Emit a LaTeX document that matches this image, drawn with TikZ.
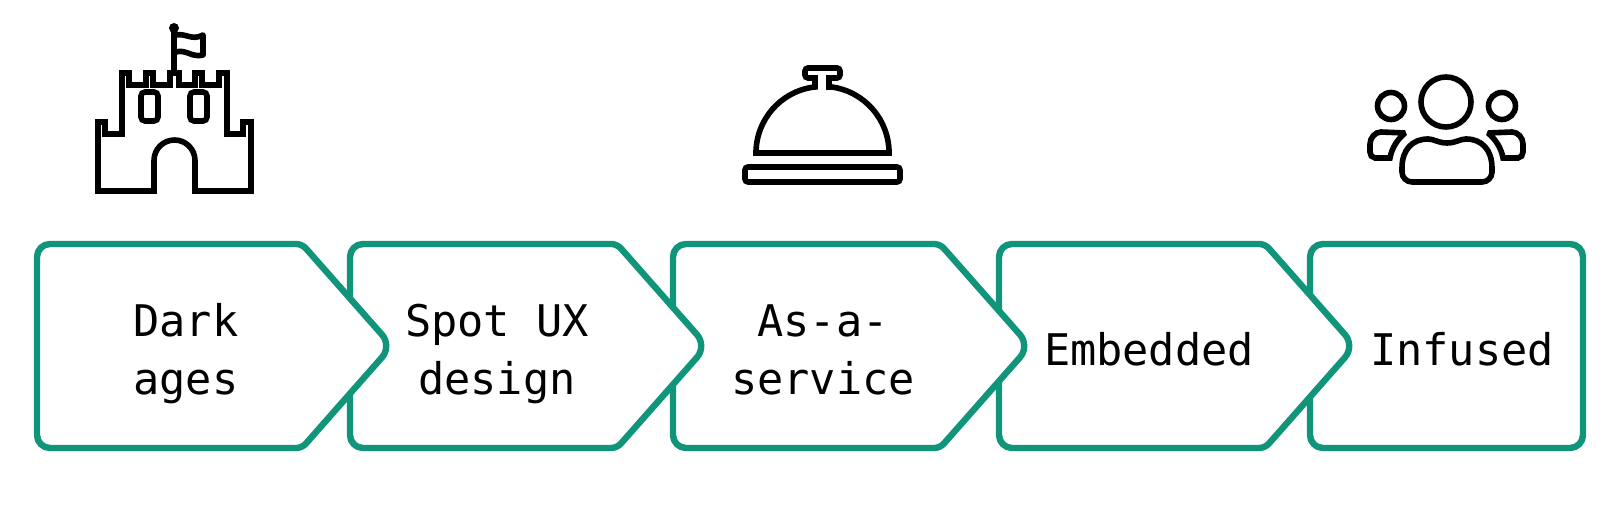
\documentclass[tikz,border=0pt]{standalone}
\usepackage{fontspec}
\setmonofont{DejaVu Sans Mono}
\definecolor{stagegreen}{HTML}{10947A}
\tikzset{
    stage/.style={draw=stagegreen, fill=white, line width=3.2pt, rounded corners=6.5pt, line join=round},
    icon/.style={draw=black, line width=2.8pt, line join=miter},
    stagetext/.style={font=\fontsize{21.8}{29}\selectfont\ttfamily, align=center, inner sep=0pt, anchor=base}
}
\begin{document}
\begin{tikzpicture}[x=0.5pt, y=-0.5pt]
    \useasboundingbox (0,0) rectangle (1619,523);

    % Stages, right to left so that each tip covers the next box
    \draw[stage] (1310,244) rectangle (1583,448);
    \foreach \lft/\shd in {999/1265, 673/940, 350/617, 37/302} {
        \draw[stage] (\lft,346) -- (\lft,244) [rounded corners=2.8pt] -- (\shd,244)
            [rounded corners=7.5pt] -- (\shd+90,346)
            [rounded corners=2.8pt] -- (\shd,448) [rounded corners=6.5pt] -- (\lft,448) -- cycle;
    }

    % Stage labels
    \node[stagetext] (Dark) at (186,395) {Dark\\ages};
    \node[stagetext] (Spot) at (497,395) {Spot UX\\design};
    \node[stagetext] (Service) at (823,395) {As-a-\\service};
    \node[stagetext] (Embedded) at (1149,366) {Embedded};
    \node[stagetext] (Infused) at (1462,366) {Infused};

    % Castle
    \draw[icon] (98,191) -- (98,122) -- (105,122) -- (105,134) -- (122,134) -- (122,73) -- (129,73) -- (129,85)
        -- (146,85) -- (146,73) -- (153,73) -- (153,85) -- (170,85) -- (170,73) -- (179,73) -- (179,85)
        -- (195,85) -- (195,73) -- (202,73) -- (202,85) -- (219,85) -- (219,73) -- (227,73) -- (227,134)
        -- (243,134) -- (243,122) -- (251,122) -- (251,191) -- (195,191) -- (195,160.5)
        arc[start angle=0, end angle=-180, radius=20.5] -- (154,191) -- cycle;
    \draw[icon, rounded corners=2pt] (141,92) rectangle (158,121);
    \draw[icon, rounded corners=2pt] (190,92) rectangle (207,121);
    \draw[icon] (174,73) -- (174,28);
    \fill (174,28) circle (5);
    \draw[icon, line join=round] (176,35) .. controls (186,33) and (192,41) .. (203,35) -- (203,55)
        .. controls (192,58) and (186,49) .. (176,52);

    % Bell
    \draw[icon, rounded corners=1.5pt] (745,167) rectangle (900,182);
    \draw[icon] (753,153) -- (892,153);
    \draw[icon] (756,153) arc[start angle=180, end angle=262, radius=66.5] -- (815,87)
        -- (815,78) [rounded corners=1.5pt] -- (805,78) -- (805,68) -- (840,68) -- (840,78) [sharp corners] -- (829,78) -- (829,87)
        -- (831.8,87) arc[start angle=278, end angle=360, radius=66.5];

    % People
    \draw[icon] (1446,102) circle (25);
    \draw[icon] (1391,106) circle (13.5);
    \draw[icon] (1502,106) circle (13.5);
    \draw[icon] (1402,168) .. controls (1402,150) and (1412,139) .. (1428,139)
        .. controls (1434,139) and (1438,143) .. (1447,143)
        .. controls (1456,143) and (1460,139) .. (1466,139)
        .. controls (1482,139) and (1492,150) .. (1492,168)
        [rounded corners=5pt] -- (1492,182) -- (1402,182) [sharp corners] -- cycle;
    \draw[icon, miter limit=2] (1405,133) -- (1381,132) .. controls (1375,132) and (1370,138) .. (1370,144) -- (1370,152)
        .. controls (1370,155) and (1372,158) .. (1375,158) -- (1390,158)
        .. controls (1392,147) and (1398,139) .. (1405,133) -- cycle;
    \draw[icon, miter limit=2] (1488,133) -- (1512,132) .. controls (1518,132) and (1523,138) .. (1523,144) -- (1523,152)
        .. controls (1523,155) and (1521,158) .. (1518,158) -- (1503,158)
        .. controls (1501,147) and (1495,139) .. (1488,133) -- cycle;
\end{tikzpicture}
\end{document}
